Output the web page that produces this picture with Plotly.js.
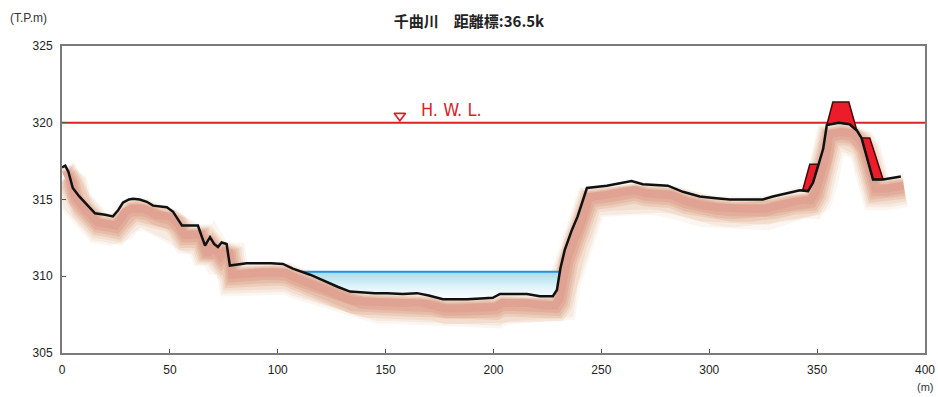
<!DOCTYPE html>
<html>
<head>
<meta charset="utf-8">
<script src="https://cdn.plot.ly/plotly-3.0.1.min.js"></script>
<style>html,body{margin:0;padding:0;background:#fff;}#chart{width:938px;height:397px;}</style>
</head>
<body>
<div id="chart"></div>
<script>
// ---- data ----
const titleText = '千曲川　距離標:36.5k';
const groundX = [0, 1.5, 3, 5, 8, 12, 15.3, 20, 23.6, 26, 28.3, 31, 33, 36, 39.3, 42.2, 45, 48.6, 51.5, 53.5, 55.6, 60, 63, 64.5, 66.3, 68.6, 70.5, 72.3, 74, 76.3, 77.8, 85.6, 91.7, 97, 102.4, 107, 115, 122.8, 128, 133.5, 138, 145, 150.6, 158, 164.5, 170, 176.6, 182, 187.7, 194, 199.7, 203, 209, 215.5, 221.5, 227.5, 229.4, 231, 233, 236.3, 239, 243.3, 252.5, 258, 264, 269.2, 275, 280.8, 287.8, 295.6, 302, 309.5, 317, 324.8, 329.5, 337.3, 342, 345.8, 348.1, 350.5, 352.8, 354.5, 360, 365, 368.4, 370.6, 375.9, 380.6, 388.8];
const groundY = [317.1, 317.2, 316.8, 315.75, 315.2, 314.6, 314.1, 314.0, 313.9, 314.3, 314.8, 315.0, 315.05, 315.0, 314.85, 314.6, 314.55, 314.5, 314.2, 313.8, 313.3, 313.3, 313.3, 312.7, 312.0, 312.55, 312.1, 311.9, 312.2, 312.1, 310.7, 310.85, 310.85, 310.85, 310.8, 310.5, 310.1, 309.6, 309.3, 309.0, 308.95, 308.9, 308.9, 308.85, 308.9, 308.75, 308.5, 308.5, 308.5, 308.55, 308.6, 308.85, 308.85, 308.85, 308.7, 308.7, 309.1, 310.5, 311.7, 313.0, 313.9, 315.75, 315.9, 316.05, 316.2, 316.0, 315.95, 315.9, 315.5, 315.2, 315.1, 315.0, 315.0, 315.0, 315.2, 315.45, 315.6, 315.55, 316.1, 317.2, 318.3, 319.85, 320.0, 319.9, 319.5, 319.0, 316.3, 316.3, 316.5];
const hwl = 320;
const hwlRange = [0, 400];
const hwlMarkX = 156.6;
const waterLevel = 310.3;
const leveeTopX = [354.5, 357.3, 364.7, 368.4, 365, 360, 354.5];
const leveeTopY = [319.85, 321.35, 321.35, 319.5, 319.9, 320.0, 319.85];
const leveeLeftX = [343.2, 346.6, 350.5, 348.1, 345.8, 343.2];
const leveeLeftY = [315.55, 317.3, 317.3, 316.1, 315.55, 315.55];
const leveeRightX = [370.6, 374.4, 380.6, 375.9, 370.6];
const leveeRightY = [319.0, 319.0, 316.3, 316.3, 319.0];
const xTicks = [0, 50, 100, 150, 200, 250, 300, 350, 400];
const yTicks = [305, 310, 315, 320, 325];

// ---- water polygon from the ground profile ----
function waterPoly() {
  const px = [], py = [];
  for (let i = 1; i < groundX.length; i++) {
    const x0 = groundX[i-1], y0 = groundY[i-1], x1 = groundX[i], y1 = groundY[i];
    const b0 = y0 < waterLevel, b1 = y1 < waterLevel;
    if (!b0 && b1) { const t = (waterLevel - y0) / (y1 - y0); px.push(x0 + t*(x1-x0)); py.push(waterLevel); }
    if (b1) { px.push(x1); py.push(y1); }
    if (b0 && !b1) { const t = (waterLevel - y0) / (y1 - y0); px.push(x0 + t*(x1-x0)); py.push(waterLevel); break; }
  }
  px.push(px[0]); py.push(py[0]);
  return {px, py};
}
const wp = waterPoly();
const waterEdges = [wp.px[0], wp.px[wp.px.length-2]];

const traces = [];
// soft shadow under the ground line: stacked translucent strokes, shifted down/right
[[32, 0.95, 1.9, 'rgba(218,165,115,0.10)'], [28, 0.9, 1.8, 'rgba(218,160,112,0.12)'], [24, 0.85, 1.7, 'rgba(215,152,112,0.16)'],
 [20, 0.8, 1.6, 'rgba(214,145,112,0.20)'], [16, 0.75, 1.5, 'rgba(214,140,115,0.24)'], [12, 0.7, 1.4, 'rgba(215,135,120,0.28)'],
 [8, 0.6, 1.2, 'rgba(218,132,125,0.25)']].forEach(([w, dy, dx, c]) => {
  traces.push({x: groundX.map(v => v + dx), y: groundY.map(v => v - dy), mode: 'lines',
    line: {color: c, width: w}, hoverinfo: 'skip'});
});
traces.push({x: wp.px, y: wp.py, mode: 'lines', fill: 'toself', line: {width: 0},
  fillgradient: {type: 'vertical', start: 308.4, stop: waterLevel, colorscale: [[0, '#ffffff'], [0.45, '#e4f4fa'], [1, '#a6dbec']]}, hoverinfo: 'skip'});
traces.push({x: waterEdges, y: [waterLevel, waterLevel], mode: 'lines', line: {color: '#2d8fd6', width: 2}, hoverinfo: 'skip'});
traces.push({x: hwlRange, y: [hwl, hwl], mode: 'lines', line: {color: '#d8232a', width: 2}, hoverinfo: 'skip'});
[[leveeTopX, leveeTopY], [leveeLeftX, leveeLeftY], [leveeRightX, leveeRightY]].forEach(([lx, ly]) => {
  traces.push({x: lx, y: ly, mode: 'lines', fill: 'toself', fillcolor: '#ec1c2a', line: {color: '#4a0808', width: 1.5}, hoverinfo: 'skip'});
});
traces.push({x: groundX, y: groundY, mode: 'lines', line: {color: '#111', width: 2.5}, hoverinfo: 'skip'});
traces.push({x: [hwlMarkX], y: [hwl + 0.45], mode: 'markers', marker: {symbol: 'triangle-down-open', size: 10, color: '#d8232a', line: {width: 1.6, color: '#d8232a'}}, hoverinfo: 'skip'});

const axisCommon = {showgrid: false, zeroline: false, showline: true, mirror: true, linecolor: '#7a7a7a', linewidth: 2,
  ticks: 'inside', ticklen: 4, tickcolor: '#555', ticklabelstandoff: 5,
  tickfont: {family: 'Liberation Sans, Arial, sans-serif', size: 12, color: '#222'}};

const layout = {
  width: 938, height: 397,
  margin: {l: 62, r: 13, t: 46, b: 44},
  paper_bgcolor: '#fff', plot_bgcolor: '#fff',
  showlegend: false,
  title: {text: titleText, x: 0.5, xanchor: 'center', y: 0.945, yanchor: 'middle',
    font: {family: 'Noto Sans CJK JP, sans-serif', size: 15, color: '#222', weight: 'bold'}},
  xaxis: Object.assign({}, axisCommon, {range: [0, 400], tickvals: xTicks, ticktext: xTicks.map(String)}),
  yaxis: Object.assign({}, axisCommon, {range: [305, 325], tickvals: yTicks, ticktext: yTicks.map(String)}),
  annotations: [
    {text: 'H.\u00a0W.\u00a0L.', xref: 'x', yref: 'y', x: 165.5, y: hwl + 0.02, xanchor: 'left', yanchor: 'bottom', showarrow: false,
      font: {family: 'Liberation Sans Narrow, DejaVu Sans Condensed, sans-serif', size: 18, color: '#d8232a'}},
    {text: '(T.P.m)', xref: 'paper', yref: 'paper', x: -0.062, y: 1.092, xanchor: 'left', yanchor: 'middle', showarrow: false,
      font: {family: 'Liberation Sans, Arial, sans-serif', size: 12, color: '#333'}},
    {text: '(m)', xref: 'paper', yref: 'paper', x: 1.0, y: -0.11, xanchor: 'center', yanchor: 'middle', showarrow: false,
      font: {family: 'Liberation Sans, Arial, sans-serif', size: 11, color: '#333'}}
  ]
};
Plotly.newPlot('chart', traces, layout, {staticPlot: true, displayModeBar: false});
</script>
</body>
</html>
